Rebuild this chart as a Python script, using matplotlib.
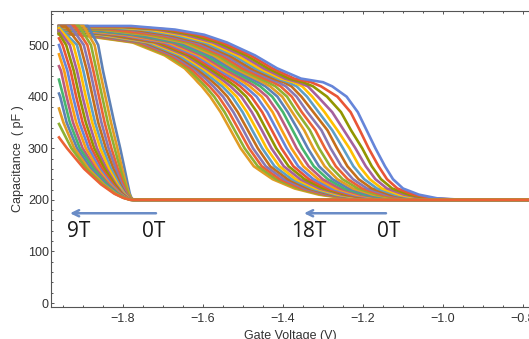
import numpy as np
import matplotlib
matplotlib.use('Agg')
import matplotlib.pyplot as plt
from matplotlib.ticker import MultipleLocator

nan = np.nan

# sweep window (gate voltage, V) and the depleted floor (pF)
gate_start = -1.96
gate_stop = -0.70
floor_pf = 200

# ---- high-voltage family: 0T (index 0, outermost) -> 18T (index 25)
# C at gate_start, end of the top plateau, then the gate voltage where each
# curve crosses the capacitance levels below
b_start_pf = [537, 536, 535, 535, 534, 533, 532, 532, 531, 530, 530, 529, 528,
              528, 527, 526, 526, 525, 525, 524, 524, 523, 522, 522, 521, 521]
b_knee_v = [-1.780, -1.788, -1.796, -1.804, -1.812, -1.820, -1.827, -1.835, -1.842,
            -1.849, -1.856, -1.863, -1.870, -1.876, -1.883, -1.889, -1.895, -1.901,
            -1.907, -1.913, -1.919, -1.924, -1.930, -1.935, -1.940, -1.945]
b_levels_pf = [530, 520, 505, 480, 455, 435, 428, 420, 400, 370, 335, 300, 265, 240,
               222, 210, 203, 200]
b_v530 = [-1.670, -1.685, -1.700, -1.716, -1.735, -1.755, -1.775, -1.785, nan, nan,
          nan, nan, nan, nan, nan, nan, nan, nan, nan, nan, nan, nan, nan, nan, nan, nan]
b_v520 = [-1.597, -1.613, -1.629, -1.644, -1.659, -1.673, -1.688, -1.702, -1.716,
          -1.730, -1.743, -1.757, -1.770, -1.782, -1.795, -1.807, -1.819, -1.831,
          -1.842, -1.853, -1.864, -1.875, -1.885, -1.896, -1.906, -1.915]
b_v505 = [-1.540, -1.552, -1.563, -1.575, -1.586, -1.597, -1.607, -1.618, -1.628,
          -1.639, -1.649, -1.658, -1.668, -1.678, -1.687, -1.696, -1.705, -1.713,
          -1.722, -1.730, -1.738, -1.746, -1.754, -1.762, -1.769, -1.776]
b_v480 = [-1.470, -1.481, -1.492, -1.503, -1.514, -1.524, -1.535, -1.545, -1.555,
          -1.564, -1.574, -1.583, -1.593, -1.602, -1.611, -1.619, -1.628, -1.636,
          -1.644, -1.652, -1.660, -1.667, -1.675, -1.682, -1.689, -1.696]
b_v455 = [-1.415, -1.427, -1.438, -1.449, -1.460, -1.470, -1.481, -1.491, -1.502,
          -1.512, -1.521, -1.531, -1.540, -1.550, -1.559, -1.567, -1.576, -1.585,
          -1.593, -1.601, -1.609, -1.617, -1.624, -1.632, -1.639, -1.646]
b_v435 = [-1.355, -1.372, -1.385, -1.395, -1.405, -1.413, -1.424, -1.435, -1.447,
          -1.458, -1.469, -1.480, -1.491, -1.503, -1.513, -1.524, -1.535, -1.546,
          -1.556, -1.566, -1.576, -1.585, -1.594, -1.604, -1.613, -1.621]
b_v428 = [-1.300, -1.330, -1.350, -1.362, -1.374, -1.387, -1.398, -1.412, -1.425,
          -1.438, -1.450, -1.462, -1.474, -1.486, -1.498, -1.510, -1.521, -1.533,
          -1.544, -1.555, -1.565, -1.575, -1.585, -1.595, -1.604, -1.613]
b_v420 = [-1.277, -1.305, -1.325, -1.338, -1.352, -1.366, -1.379, -1.393, -1.406,
          -1.419, -1.432, -1.444, -1.457, -1.470, -1.483, -1.495, -1.507, -1.519,
          -1.531, -1.542, -1.552, -1.563, -1.574, -1.584, -1.594, -1.603]
b_v400 = [-1.241, -1.264, -1.290, -1.313, -1.327, -1.340, -1.354, -1.366, -1.378,
          -1.390, -1.402, -1.414, -1.427, -1.440, -1.453, -1.466, -1.479, -1.492,
          -1.504, -1.516, -1.527, -1.539, -1.550, -1.561, -1.572, -1.582]
b_v370 = [-1.213, -1.231, -1.255, -1.277, -1.296, -1.311, -1.324, -1.339, -1.353,
          -1.365, -1.377, -1.388, -1.400, -1.413, -1.426, -1.439, -1.452, -1.465,
          -1.478, -1.490, -1.501, -1.513, -1.524, -1.535, -1.546, -1.556]
b_v335 = [-1.191, -1.208, -1.230, -1.248, -1.264, -1.277, -1.289, -1.304, -1.319,
          -1.333, -1.347, -1.362, -1.376, -1.389, -1.403, -1.415, -1.428, -1.441,
          -1.453, -1.465, -1.477, -1.488, -1.499, -1.510, -1.521, -1.531]
b_v300 = [-1.169, -1.186, -1.202, -1.219, -1.234, -1.250, -1.265, -1.281, -1.295,
          -1.310, -1.324, -1.338, -1.352, -1.366, -1.379, -1.391, -1.404, -1.417,
          -1.429, -1.441, -1.452, -1.463, -1.475, -1.485, -1.496, -1.506]
b_v265 = [-1.145, -1.161, -1.178, -1.193, -1.209, -1.224, -1.239, -1.254, -1.268,
          -1.282, -1.296, -1.310, -1.323, -1.336, -1.349, -1.362, -1.374, -1.386,
          -1.398, -1.409, -1.421, -1.432, -1.443, -1.453, -1.463, -1.473]
b_v240 = [-1.125, -1.140, -1.155, -1.169, -1.183, -1.197, -1.211, -1.225, -1.238,
          -1.251, -1.264, -1.276, -1.288, -1.301, -1.312, -1.324, -1.335, -1.346,
          -1.357, -1.368, -1.378, -1.388, -1.398, -1.408, -1.417, -1.426]
b_v222 = [-1.100, -1.114, -1.127, -1.140, -1.153, -1.165, -1.178, -1.190, -1.202,
          -1.213, -1.225, -1.236, -1.247, -1.258, -1.269, -1.279, -1.289, -1.299,
          -1.309, -1.318, -1.328, -1.337, -1.346, -1.355, -1.363, -1.371]
b_v210 = [-1.060, -1.073, -1.085, -1.097, -1.109, -1.120, -1.132, -1.143, -1.154,
          -1.165, -1.175, -1.186, -1.196, -1.206, -1.216, -1.225, -1.235, -1.244,
          -1.253, -1.262, -1.270, -1.279, -1.287, -1.295, -1.303, -1.310]
b_v203 = [-1.015, -1.027, -1.038, -1.049, -1.060, -1.070, -1.081, -1.091, -1.101,
          -1.111, -1.121, -1.131, -1.140, -1.149, -1.158, -1.167, -1.176, -1.184,
          -1.192, -1.200, -1.208, -1.216, -1.224, -1.231, -1.238, -1.245]
b_v200 = [-0.950, -0.960, -0.970, -0.979, -0.989, -0.998, -1.007, -1.016, -1.025,
          -1.034, -1.042, -1.050, -1.059, -1.067, -1.074, -1.082, -1.090, -1.097,
          -1.104, -1.111, -1.118, -1.125, -1.131, -1.138, -1.144, -1.150]

# ---- low-voltage family: 0T (index 0) -> 9T (index 18)
a_start_pf = [537, 537, 537, 537, 537, 536, 535, 533, 528, 522, 513, 500, 482, 459,
              433, 406, 377, 347, 321]
a_knee_v = [-1.888, -1.899, -1.910, -1.921, -1.932, -1.943, nan, nan, nan, nan,
            nan, nan, nan, nan, nan, nan, nan, nan, nan]
a_levels_pf = [500, 450, 400, 350, 300, 260, 230, 212, 204, 200]
a_v500 = [-1.862, -1.871, -1.880, -1.889, -1.898, -1.907, -1.915, -1.924, -1.933,
          -1.942, -1.951, nan, nan, nan, nan, nan, nan, nan, nan]
a_v450 = [-1.850, -1.858, -1.866, -1.874, -1.882, -1.890, -1.899, -1.907, -1.915,
          -1.923, -1.931, -1.939, -1.947, -1.955, nan, nan, nan, nan, nan]
a_v400 = [-1.836, -1.844, -1.852, -1.860, -1.868, -1.876, -1.885, -1.893, -1.901,
          -1.909, -1.917, -1.925, -1.933, -1.941, -1.949, -1.957, nan, nan, nan]
a_v350 = [-1.822, -1.830, -1.838, -1.846, -1.854, -1.862, -1.870, -1.877, -1.885,
          -1.893, -1.901, -1.909, -1.917, -1.925, -1.933, -1.941, -1.949, nan, nan]
a_v300 = [-1.807, -1.814, -1.821, -1.829, -1.836, -1.843, -1.850, -1.857, -1.865,
          -1.872, -1.879, -1.886, -1.893, -1.901, -1.908, -1.915, -1.922, -1.929, -1.940]
a_v260 = [-1.796, -1.802, -1.807, -1.813, -1.818, -1.824, -1.830, -1.835, -1.841,
          -1.846, -1.852, -1.858, -1.863, -1.869, -1.874, -1.880, -1.886, -1.891, -1.897]
a_v230 = [-1.788, -1.792, -1.795, -1.799, -1.803, -1.807, -1.810, -1.814, -1.818,
          -1.821, -1.825, -1.829, -1.833, -1.836, -1.840, -1.844, -1.848, -1.851, -1.855]
a_v212 = [-1.783, -1.785, -1.787, -1.790, -1.792, -1.794, -1.796, -1.798, -1.800,
          -1.803, -1.805, -1.807, -1.809, -1.811, -1.813, -1.816, -1.818, -1.820, -1.822]
a_v204 = [-1.779, -1.780, -1.781, -1.783, -1.784, -1.785, -1.786, -1.787, -1.788,
          -1.790, -1.791, -1.792, -1.793, -1.794, -1.795, -1.797, -1.798, -1.799, -1.800]
a_v200 = [-1.774, -1.774, -1.774, -1.774, -1.774, -1.776, -1.776, -1.776, -1.776,
          -1.776, -1.778, -1.778, -1.778, -1.778, -1.780, -1.780, -1.780, -1.782, -1.782]

# field-sweep arrows and labels
arrow_tail_v = [-1.7175, -1.1425]
arrow_head_v = [-1.9325, -1.3475]
arrow_pf = 174
field_labels = ['9T', '0T', '18T', '0T']
field_label_v = [-1.91, -1.724, -1.335, -1.135]
field_label_pf = 128

palette = ['#5E81B5', '#E19C24', '#8FB032', '#EB6235', '#8778B3', '#C56E1A', '#5D9EC7',
           '#FFBF00', '#A5609D', '#929600', '#E95536', '#6685D9', '#F89F13', '#BC5B80',
           '#47B66D']

b_cross = [b_v530, b_v520, b_v505, b_v480, b_v455, b_v435, b_v428, b_v420, b_v400,
           b_v370, b_v335, b_v300, b_v265, b_v240, b_v222, b_v210, b_v203, b_v200]
a_cross = [a_v500, a_v450, a_v400, a_v350, a_v300, a_v260, a_v230, a_v212, a_v204, a_v200]


def build_curve(k, start, knee, levels, cross):
    xs, ys = [gate_start], [start[k]]
    if not np.isnan(knee[k]):
        xs.append(knee[k])
        ys.append(start[k])
    for lev, col in zip(levels, cross):
        if np.isnan(col[k]):
            continue
        xs.append(col[k])
        ys.append(lev)
    xs.append(gate_stop)
    ys.append(floor_pf)
    return xs, ys


fig = plt.figure(figsize=(5.29, 3.39), dpi=100)
ax = fig.add_axes([51 / 529, 32 / 339, 478 / 529, 296 / 339])

n_b = len(b_start_pf)
for k in range(n_b - 1, -1, -1):
    xs, ys = build_curve(k, b_start_pf, b_knee_v, b_levels_pf, b_cross)
    ax.plot(xs, ys, color=palette[(n_b - k) % 15], lw=1.9, solid_joinstyle='round')

for k in range(len(a_start_pf)):
    xs, ys = build_curve(k, a_start_pf, a_knee_v, a_levels_pf, a_cross)
    ax.plot(xs, ys, color=palette[k % 15], lw=1.9, solid_joinstyle='round')

for t, h in zip(arrow_tail_v, arrow_head_v):
    ax.annotate('', xy=(h, arrow_pf), xytext=(t, arrow_pf),
                arrowprops=dict(arrowstyle='->,head_length=0.45,head_width=0.22',
                                color='#6A8CC6', lw=1.8, shrinkA=0, shrinkB=0))
for s, v in zip(field_labels, field_label_v):
    ax.text(v, field_label_pf, s, fontsize=15, family='Open Sans', color='#1a1a1a',
            ha='center', va='baseline')

ax.set_xlim(-1.98, -0.785)
ax.set_ylim(-7.7, 566)
ax.xaxis.set_major_locator(MultipleLocator(0.2))
ax.xaxis.set_minor_locator(MultipleLocator(0.05))
ax.yaxis.set_major_locator(MultipleLocator(100))
ax.yaxis.set_minor_locator(MultipleLocator(20))

for side in ['left', 'bottom', 'top']:
    ax.spines[side].set_color('#555555')
    ax.spines[side].set_linewidth(0.8)
ax.spines['right'].set_visible(False)

ax.tick_params(which='both', direction='in', top=True, right=False, color='#555555',
               labelcolor='#333333', labelsize=9, width=0.7)
ax.tick_params(which='major', length=2.4)
ax.tick_params(which='minor', length=1.3)
ax.tick_params(axis='y', pad=1.5)
ax.tick_params(axis='x', pad=4)
for lab in ax.get_xticklabels() + ax.get_yticklabels():
    lab.set_family('Liberation Sans')

ax.set_xlabel('Gate Voltage (V)', fontsize=9, family='Liberation Sans', color='#333333',
              labelpad=4)
ax.set_ylabel('Capacitance  ( pF )', fontsize=9, family='Liberation Sans', color='#333333',
              labelpad=3)

fig.savefig('out.png', dpi=100)
